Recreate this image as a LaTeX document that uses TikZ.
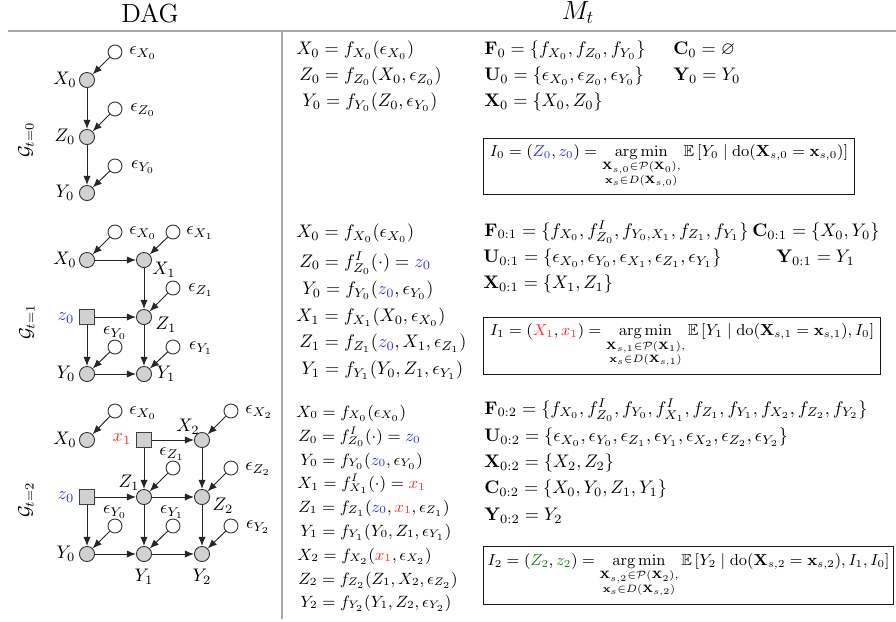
\documentclass[tikz,border=0pt]{standalone}
\usepackage{amsmath,amssymb,graphicx}
\usetikzlibrary{arrows.meta}
\definecolor{myblue}{RGB}{45,45,255}
\definecolor{myred}{RGB}{255,45,45}
\definecolor{mygreen}{RGB}{30,125,30}
\newcommand{\bz}{{\color{myblue}z_0}}
\newcommand{\rx}{{\color{myred}x_1}}
\DeclareMathOperator*{\myargmin}{arg\,min}
\begin{document}
\begin{tikzpicture}[x=0.55pt,y=-0.55pt,
  obs/.style={circle, draw=black!80, fill=black!18, line width=0.5pt, minimum size=8.3pt, inner sep=0pt},
  noise/.style={circle, draw=black!80, fill=white, line width=0.5pt, minimum size=7.7pt, inner sep=0pt},
  intv/.style={rectangle, draw=black!75, fill=black!18, line width=0.5pt, minimum size=8.1pt, inner sep=0pt},
  arr/.style={-{Latex[length=5pt,width=4pt]}, draw=black!85, line width=0.55pt},
  lbl/.style={inner sep=0pt},
  eq/.style={anchor=west, inner sep=0pt},
  seq/.style={anchor=west, inner sep=0pt, font=\small},
  optbox/.style={draw=black!90, line width=0.6pt, anchor=north west, inner xsep=3pt, inner ysep=2pt, font=\small},
  sep/.style={draw=black!35, line width=1.1pt},
  head/.style={font=\Large}
]
\useasboundingbox (0,0) rectangle (896,621);
% headers and rules
\node[head] (hdag) at (150,13) {DAG};
\node[head] (hmt) at (578,13) {$M_t$};
\coordinate (hl1) at (8,31);
\coordinate (hl2) at (896,31);
\coordinate (vl1) at (281.5,31);
\coordinate (vl2) at (281.5,619);
\draw[sep] (hl1) -- (hl2);
\draw[sep] (vl1) -- (vl2);

% ---------------- t = 0 ----------------
\node[rotate=90] (g0) at (26,140) {$\mathcal{G}_{t=0}$};
\node[noise] (a-eX0) at (115,52) {};
\node[obs]   (a-X0)  at (87,80) {};
\node[noise] (a-eZ0) at (115,109) {};
\node[obs]   (a-Z0)  at (87,137) {};
\node[noise] (a-eY0) at (115,166) {};
\node[obs]   (a-Y0)  at (87,193) {};
\node[lbl] (la-X0) at (65,80) {$X_0$};
\node[lbl] (la-Z0) at (65,137) {$Z_0$};
\node[lbl] (la-Y0) at (65,193) {$Y_0$};
\node[lbl] (la-eX0) at (143,53) {$\epsilon_{X_0}$};
\node[lbl] (la-eZ0) at (143,110) {$\epsilon_{Z_0}$};
\node[lbl] (la-eY0) at (143,167) {$\epsilon_{Y_0}$};
\draw[arr] (a-eX0) -- (a-X0);
\draw[arr] (a-X0) -- (a-Z0);
\draw[arr] (a-eZ0) -- (a-Z0);
\draw[arr] (a-Z0) -- (a-Y0);
\draw[arr] (a-eY0) -- (a-Y0);

\node[eq] (e0-1) at (296,50) {$X_0 = f_{X_0}(\epsilon_{X_0})$};
\node[eq] (e0-2) at (299,76) {$Z_0 = f_{Z_0}(X_0,\epsilon_{Z_0})$};
\node[eq] (e0-3) at (302,102) {$Y_0 = f_{Y_0}(Z_0,\epsilon_{Y_0})$};
\node[eq] (r0-F) at (484,50) {$\mathbf{F}_0 = \{f_{X_0}, f_{Z_0}, f_{Y_0}\}$};
\node[eq] (r0-C) at (673,50) {$\mathbf{C}_0 = \varnothing$};
\node[eq] (r0-U) at (484,76) {$\mathbf{U}_0 = \{\epsilon_{X_0}, \epsilon_{Z_0}, \epsilon_{Y_0}\}$};
\node[eq] (r0-Y) at (673,76) {$\mathbf{Y}_0 = Y_0$};
\node[eq] (r0-X) at (484,102) {$\mathbf{X}_0 = \{X_0, Z_0\}$};
\node[optbox, minimum width=204pt, minimum height=30.8pt] (box0) at (483,138)
 {\scalebox{0.975}{$\displaystyle I_0 = ({\color{myblue}Z_0}, \bz) = \myargmin_{\substack{\mathbf{X}_{s,0}\in\mathcal{P}(\mathbf{X}_0),\\ \mathbf{x}_s\in D(\mathbf{X}_{s,0})}} \mathbb{E}\left[Y_0 \mid \mathrm{do}(\mathbf{X}_{s,0} = \mathbf{x}_{s,0})\right]$}};

% ---------------- t = 1 ----------------
\node[rotate=90] (g1) at (27,322) {$\mathcal{G}_{t=1}$};
\node[noise] (b-eX0) at (115,232) {};
\node[obs]   (b-X0)  at (87,260) {};
\node[noise] (b-eX1) at (173,232) {};
\node[obs]   (b-X1)  at (144,260) {};
\node[noise] (b-eZ1) at (173,288) {};
\node[obs]   (b-Z1)  at (144,317) {};
\node[intv]  (b-z0)  at (87,317) {};
\node[noise] (b-eY0) at (115,347) {};
\node[noise] (b-eY1) at (173,347) {};
\node[obs]   (b-Y0)  at (87,374) {};
\node[obs]   (b-Y1)  at (144,374) {};
\node[lbl] (lb-eX0) at (143,233) {$\epsilon_{X_0}$};
\node[lbl] (lb-eX1) at (200,233) {$\epsilon_{X_1}$};
\node[lbl] (lb-X0) at (65,260) {$X_0$};
\node[lbl] (lb-X1) at (164,270) {$X_1$};
\node[lbl] (lb-eZ1) at (201,290) {$\epsilon_{Z_1}$};
\node[lbl] (lb-z0) at (66,318) {$\bz$};
\node[lbl] (lb-Z1) at (166,325) {$Z_1$};
\node[lbl] (lb-eY0) at (115,333) {$\epsilon_{Y_0}$};
\node[lbl] (lb-eY1) at (201,348) {$\epsilon_{Y_1}$};
\node[lbl] (lb-Y0) at (66,374) {$Y_0$};
\node[lbl] (lb-Y1) at (166,374) {$Y_1$};
\draw[arr] (b-eX0) -- (b-X0);
\draw[arr] (b-X0) -- (b-X1);
\draw[arr] (b-eX1) -- (b-X1);
\draw[arr] (b-X1) -- (b-Z1);
\draw[arr] (b-eZ1) -- (b-Z1);
\draw[arr] (b-z0) -- (b-Z1);
\draw[arr] (b-z0) -- (b-Y0);
\draw[arr] (b-eY0) -- (b-Y0);
\draw[arr] (b-Z1) -- (b-Y1);
\draw[arr] (b-eY1) -- (b-Y1);
\draw[arr] (b-Y0) -- (b-Y1);

\node[eq] (e1-1) at (296,233) {$X_0 = f_{X_0}(\epsilon_{X_0})$};
\node[eq] (e1-2) at (299,263) {$Z_0 = f^I_{Z_0}(\cdot) = \bz$};
\node[eq] (e1-3) at (302,290) {$Y_0 = f_{Y_0}(\bz, \epsilon_{Y_0})$};
\node[eq] (e1-4) at (296,317) {$X_1 = f_{X_1}(X_0, \epsilon_{X_0})$};
\node[eq] (e1-5) at (299,343) {$Z_1 = f_{Z_1}(\bz, X_1, \epsilon_{Z_1})$};
\node[eq] (e1-6) at (301,370) {$Y_1 = f_{Y_1}(Y_0, Z_1, \epsilon_{Y_1})$};
\node[eq] (r1-F) at (484,232) {$\mathbf{F}_{0:1} = \{f_{X_0}, f^I_{Z_0}, f_{Y_0,X_1}, f_{Z_1}, f_{Y_1}\}$};
\node[eq] (r1-C) at (752,232) {$\mathbf{C}_{0:1} = \{X_0, Y_0\}$};
\node[eq] (r1-U) at (483,258) {$\mathbf{U}_{0:1} = \{\epsilon_{X_0}, \epsilon_{Y_0}, \epsilon_{X_1}, \epsilon_{Z_1}, \epsilon_{Y_1}\}$};
\node[eq] (r1-Y) at (776,258) {$\mathbf{Y}_{0:1} = Y_1$};
\node[eq] (r1-X) at (483,284) {$\mathbf{X}_{0:1} = \{X_1, Z_1\}$};
\node[optbox, minimum width=218.4pt, minimum height=31.4pt] (box1) at (483,317)
 {\scalebox{0.975}{$\displaystyle I_1 = ({\color{myred}X_1}, \rx) = \myargmin_{\substack{\mathbf{X}_{s,1}\in\mathcal{P}(\mathbf{X}_1),\\ \mathbf{x}_s\in D(\mathbf{X}_{s,1})}} \mathbb{E}\left[Y_1 \mid \mathrm{do}(\mathbf{X}_{s,1} = \mathbf{x}_{s,1}), I_0\right]$}};

% ---------------- t = 2 ----------------
\node[rotate=90] (g2) at (26,500) {$\mathcal{G}_{t=2}$};
\node[noise] (c-eX0) at (115,411) {};
\node[obs]   (c-X0)  at (87,440) {};
\node[intv]  (c-x1)  at (144,440) {};
\node[obs]   (c-X2)  at (202,440) {};
\node[noise] (c-eX2) at (231,411) {};
\node[noise] (c-eZ1) at (173,468) {};
\node[obs]   (c-Z1)  at (144,497) {};
\node[intv]  (c-z0)  at (87,497) {};
\node[obs]   (c-Z2)  at (202,497) {};
\node[noise] (c-eZ2) at (231,468) {};
\node[noise] (c-eY0) at (115,526) {};
\node[noise] (c-eY1) at (173,526) {};
\node[noise] (c-eY2) at (231,526) {};
\node[obs]   (c-Y0)  at (87,554) {};
\node[obs]   (c-Y1)  at (144,554) {};
\node[obs]   (c-Y2)  at (202,554) {};
\node[lbl] (lc-eX0) at (143,413) {$\epsilon_{X_0}$};
\node[lbl] (lc-X0) at (65,440) {$X_0$};
\node[lbl] (lc-x1) at (122,439) {$\rx$};
\node[lbl] (lc-X2) at (188,427) {$X_2$};
\node[lbl] (lc-eX2) at (259,412) {$\epsilon_{X_2}$};
\node[lbl] (lc-eZ1) at (172,454) {$\epsilon_{Z_1}$};
\node[lbl] (lc-eZ2) at (258,469) {$\epsilon_{Z_2}$};
\node[lbl] (lc-Z1) at (129,483) {$Z_1$};
\node[lbl] (lc-z0) at (66,497) {$\bz$};
\node[lbl] (lc-Z2) at (223,506) {$Z_2$};
\node[lbl] (lc-eY0) at (115,512) {$\epsilon_{Y_0}$};
\node[lbl] (lc-eY1) at (172,512) {$\epsilon_{Y_1}$};
\node[lbl] (lc-eY2) at (258,527) {$\epsilon_{Y_2}$};
\node[lbl] (lc-Y0) at (66,554) {$Y_0$};
\node[lbl] (lc-Y1) at (144,577) {$Y_1$};
\node[lbl] (lc-Y2) at (202,577) {$Y_2$};
\draw[arr] (c-eX0) -- (c-X0);
\draw[arr] (c-x1) -- (c-X2);
\draw[arr] (c-x1) -- (c-Z1);
\draw[arr] (c-eX2) -- (c-X2);
\draw[arr] (c-X2) -- (c-Z2);
\draw[arr] (c-eZ1) -- (c-Z1);
\draw[arr] (c-z0) -- (c-Z1);
\draw[arr] (c-Z1) -- (c-Z2);
\draw[arr] (c-eZ2) -- (c-Z2);
\draw[arr] (c-z0) -- (c-Y0);
\draw[arr] (c-Z1) -- (c-Y1);
\draw[arr] (c-Z2) -- (c-Y2);
\draw[arr] (c-eY0) -- (c-Y0);
\draw[arr] (c-eY1) -- (c-Y1);
\draw[arr] (c-eY2) -- (c-Y2);
\draw[arr] (c-Y0) -- (c-Y1);
\draw[arr] (c-Y1) -- (c-Y2);

\node[seq] (e2-1) at (296,413) {$X_0 = f_{X_0}(\epsilon_{X_0})$};
\node[seq] (e2-2) at (298,437) {$Z_0 = f^I_{Z_0}(\cdot) = \bz$};
\node[seq] (e2-3) at (300,461) {$Y_0 = f_{Y_0}(\bz, \epsilon_{Y_0})$};
\node[seq] (e2-4) at (297,484) {$X_1 = f^I_{X_1}(\cdot) = \rx$};
\node[seq] (e2-5) at (298,508) {$Z_1 = f_{Z_1}(\bz, \rx, \epsilon_{Z_1})$};
\node[seq] (e2-6) at (300,532) {$Y_1 = f_{Y_1}(Y_0, Z_1, \epsilon_{Y_1})$};
\node[seq] (e2-7) at (297,556) {$X_2 = f_{X_2}(\rx, \epsilon_{X_2})$};
\node[seq] (e2-8) at (298,580) {$Z_2 = f_{Z_2}(Z_1, X_2, \epsilon_{Z_2})$};
\node[seq] (e2-9) at (300,603) {$Y_2 = f_{Y_2}(Y_1, Z_2, \epsilon_{Y_2})$};
\node[eq] (r2-F) at (484,410) {$\mathbf{F}_{0:2} = \{f_{X_0}, f^I_{Z_0}, f_{Y_0}, f^I_{X_1}, f_{Z_1}, f_{Y_1}, f_{X_2}, f_{Z_2}, f_{Y_2}\}$};
\node[eq] (r2-U) at (484,437) {$\mathbf{U}_{0:2} = \{\epsilon_{X_0}, \epsilon_{Y_0}, \epsilon_{Z_1}, \epsilon_{Y_1}, \epsilon_{X_2}, \epsilon_{Z_2}, \epsilon_{Y_2}\}$};
\node[eq] (r2-X) at (484,463) {$\mathbf{X}_{0:2} = \{X_2, Z_2\}$};
\node[eq] (r2-C) at (484,489) {$\mathbf{C}_{0:2} = \{X_0, Y_0, Z_1, Y_1\}$};
\node[eq] (r2-Y) at (484,516) {$\mathbf{Y}_{0:2} = Y_2$};
\node[optbox, inner xsep=1.5pt, minimum width=225.5pt, minimum height=31.9pt] (box2) at (483,546)
 {\scalebox{0.975}{$\displaystyle I_2 = ({\color{mygreen}Z_2}, {\color{mygreen}z_2}) = \myargmin_{\substack{\mathbf{X}_{s,2}\in\mathcal{P}(\mathbf{X}_2),\\ \mathbf{x}_s\in D(\mathbf{X}_{s,2})}} \mathbb{E}\left[Y_2 \mid \mathrm{do}(\mathbf{X}_{s,2} = \mathbf{x}_{s,2}), I_1, I_0\right]$}};
\end{tikzpicture}
\end{document}
